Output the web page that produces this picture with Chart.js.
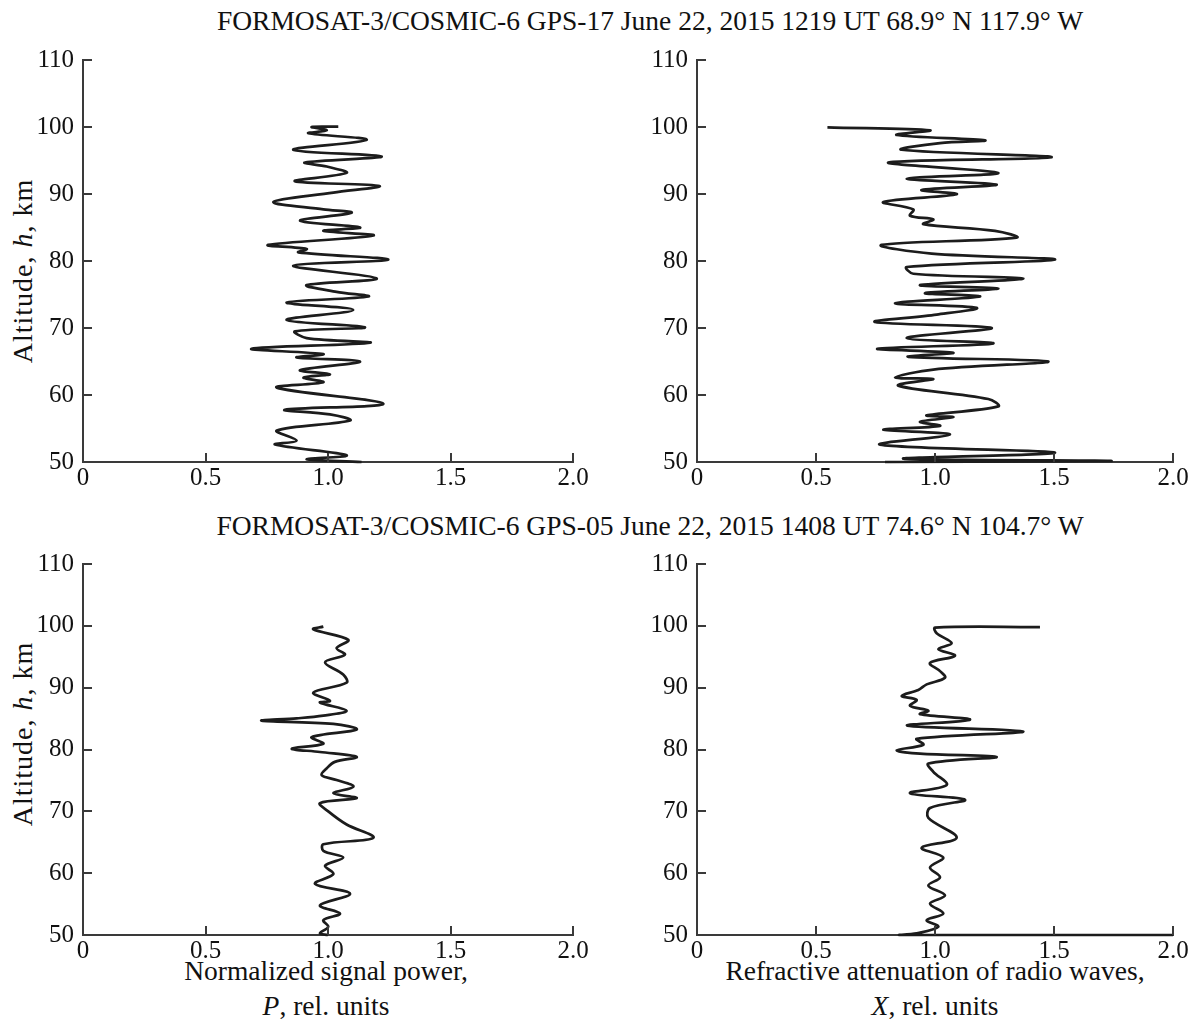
<!DOCTYPE html>
<html>
<head>
<meta charset="utf-8">
<script src="https://cdn.jsdelivr.net/npm/chart.js@4.4.0/dist/chart.umd.min.js"></script>
<style>
  html, body { margin: 0; padding: 0; background: #fff; }
  body { width: 1196px; height: 1031px; position: relative; overflow: hidden; font-family: "Liberation Serif", "Times New Roman", serif; color: #111; }
  canvas { position: absolute; }
  .txt { position: absolute; white-space: nowrap; font-size: 27.5px; line-height: 1; }
  .title { transform: translate(-50%, -50%); }
  .ytitle { font-size: 28px; letter-spacing: 1px; transform: translate(-50%, -50%) rotate(-90deg); }
  .xtitle { transform: translate(-50%, -50%); }
</style>
</head>
<body>
<div class="txt title" id="t1" style="left:650px; top:21px;"></div>
<div class="txt title" id="t2" style="left:650px; top:526px;"></div>
<div class="txt ytitle" style="left:23px; top:271px;">Altitude, <i>h</i>, km</div>
<div class="txt ytitle" style="left:23px; top:734px;">Altitude, <i>h</i>, km</div>
<div class="txt xtitle" style="left:326px; top:971px;">Normalized signal power,</div>
<div class="txt xtitle" style="left:326px; top:1006px;"><i>P</i>, rel. units</div>
<div class="txt xtitle" style="left:935px; top:971px;">Refractive attenuation of radio waves,</div>
<div class="txt xtitle" style="left:935px; top:1006px;"><i>X</i>, rel. units</div>
<canvas id="c1"></canvas>
<canvas id="c2"></canvas>
<canvas id="c3"></canvas>
<canvas id="c4"></canvas>
<script>
// ---- Titles ----
const title1 = "FORMOSAT-3/COSMIC-6 GPS-17 June 22, 2015 1219 UT 68.9° N 117.9° W";
const title2 = "FORMOSAT-3/COSMIC-6 GPS-05 June 22, 2015 1408 UT 74.6° N 104.7° W";

// ---- Tick labels ----
const xTickLabels = ["0", "0.5", "1.0", "1.5", "2.0"];
const yTickLabels = ["50", "60", "70", "80", "90", "100", "110"];

// ---- Top-left: normalized signal power P, GPS-17 ----
const tlAlt = [100.05,100.0,99.5,99.06,98.08,96.6,95.6,94.7,94.1,93.15,91.9,91.2,90.2,88.8,87.7,87.2,86.0,85.0,84.5,83.8,82.4,81.8,81.3,80.2,79.3,77.4,76.4,75.4,74.7,73.8,72.7,71.2,70.1,69.5,68.5,67.8,66.9,66.1,65.6,65.0,63.7,63.1,62.6,61.9,61.1,58.7,57.8,57.1,56.2,54.7,53.2,52.6,51.0,50.4,50.0];
const tlVal = [1.042,0.933,0.995,0.920,1.158,0.858,1.219,0.906,0.995,1.076,0.865,1.210,1.022,0.777,0.981,1.096,0.886,1.131,0.981,1.185,0.756,0.913,0.879,1.246,0.858,1.199,0.913,1.035,1.165,0.831,1.103,0.831,1.151,0.865,0.913,1.172,0.688,0.981,0.872,1.131,0.886,1.008,0.900,0.981,0.791,1.226,0.824,1.008,1.090,0.791,0.872,0.784,1.076,0.913,1.137];

// ---- Top-right: refractive attenuation X, GPS-17 ----
const trAlt = [99.95,99.5,98.8,98.0,97.6,96.6,95.5,94.7,93.15,92.3,91.4,90.6,89.95,88.8,87.7,86.75,86.2,85.5,84.5,83.5,82.4,81.1,80.2,79.1,78.1,77.4,76.4,75.9,75.2,74.7,73.7,73.0,72.0,70.9,70.0,68.5,67.7,66.9,66.3,65.7,65.0,63.8,62.6,62.4,61.4,59.4,58.3,56.95,56.7,56.0,55.4,54.8,54.1,52.6,51.4,50.5,50.15,50.0];
const trVal = [0.548,0.979,0.839,1.210,1.021,0.860,1.490,0.804,1.266,0.881,1.259,0.944,1.091,0.783,0.909,0.895,0.993,0.951,1.252,1.343,0.776,0.986,1.504,0.881,0.909,1.371,0.937,1.266,0.958,1.189,0.832,1.175,1.007,0.748,1.238,0.881,1.245,0.758,1.077,0.888,1.476,0.993,0.832,0.993,0.846,1.224,1.266,0.965,1.077,0.937,1.021,0.783,1.063,0.769,1.504,0.867,1.742,0.790];

// ---- Bottom-left: normalized signal power P, GPS-05 ----
const blAlt = [99.87,99.44,97.73,96.4,95.33,94.1,92.13,90.8,89.2,87.87,87.6,86.27,85.47,85.04,84.67,84.13,83.23,82.0,80.93,80.13,79.6,78.8,78.0,76.93,75.87,75.07,74.0,72.93,72.13,71.33,70.0,67.87,65.73,64.67,63.6,62.53,61.2,59.87,58.27,56.67,54.8,53.47,52.4,51.33,50.27,50.0];
const blVal = [0.981,0.940,1.083,1.035,1.069,0.988,1.062,1.076,0.940,1.008,0.967,1.076,0.981,0.872,0.729,1.022,1.117,0.933,0.981,0.852,0.967,1.117,1.028,0.994,0.974,1.035,1.104,1.022,1.117,0.967,1.001,1.076,1.185,0.981,0.981,1.062,0.988,1.022,0.947,1.090,0.967,1.049,0.981,1.001,0.967,1.000];

// ---- Bottom-right: refractive attenuation X, GPS-05 ----
const brAlt = [99.8,99.7,98.8,97.2,96.24,95.17,94.0,92.67,91.6,90.53,89.63,88.67,88.03,87.07,86.27,85.73,84.83,83.87,82.91,81.73,80.77,79.87,79.33,78.8,77.73,76.4,74.27,72.93,71.87,70.53,68.93,65.73,64.13,62.53,60.93,59.33,58.0,56.4,55.07,53.47,52.4,51.33,50.27,50.0,50.0];
const brVal = [1.441,1.0,1.007,1.070,1.014,1.084,0.979,1.021,1.042,0.965,0.930,0.860,0.923,0.895,0.972,0.937,1.147,0.884,1.371,0.923,0.951,0.839,0.937,1.259,0.972,0.993,1.049,0.895,1.126,0.979,0.972,1.091,0.944,1.035,0.979,1.021,0.972,1.042,0.979,1.035,0.965,1.014,0.923,0.853,2.0];

document.getElementById('t1').textContent = title1;
document.getElementById('t2').textContent = title2;

const AXIS_COLOR = '#3a3a3a';
const LINE_COLOR = '#1c1c1c';
const FAMILY = '"Liberation Serif", "Times New Roman", serif';
Chart.defaults.font.family = FAMILY;
const FONT = { family: FAMILY, size: 25 };

// inward tick marks drawn from the library's own scales
const inwardTicks = {
  id: 'inwardTicks',
  afterDraw(chart) {
    const ctx = chart.ctx;
    const xs = chart.scales.x, ys = chart.scales.y;
    const a = chart.chartArea;
    ctx.save();
    ctx.strokeStyle = AXIS_COLOR;
    ctx.lineWidth = 2;
    xs.ticks.forEach(t => {
      const px = Math.round(xs.getPixelForValue(t.value));
      ctx.beginPath(); ctx.moveTo(px, a.bottom); ctx.lineTo(px, a.bottom - 9); ctx.stroke();
    });
    ys.ticks.forEach(t => {
      const py = Math.round(ys.getPixelForValue(t.value));
      ctx.beginPath(); ctx.moveTo(a.left, py); ctx.lineTo(a.left + 9, py); ctx.stroke();
    });
    ctx.restore();
  }
};

function makePanel(id, rect, alt, val) {
  const LEFT = 83, RIGHT = 23, TOP = 20, BOTTOM = 44;
  const cv = document.getElementById(id);
  const w = (rect.right - rect.left) + LEFT + RIGHT;
  const h = (rect.bottom - rect.top) + TOP + BOTTOM;
  cv.width = w; cv.height = h;
  cv.style.width = w + 'px'; cv.style.height = h + 'px';
  cv.style.left = (rect.left - LEFT) + 'px';
  cv.style.top = (rect.top - TOP) + 'px';
  const pts = alt.map((a, i) => ({ x: val[i], y: a }));
  return new Chart(cv, {
    type: 'scatter',
    data: { datasets: [{
      data: pts, showLine: true, borderColor: LINE_COLOR, borderWidth: 2.7,
      pointRadius: 0, tension: 0.35, clip: false, fill: false
    }]},
    options: {
      responsive: false, animation: false, devicePixelRatio: 1,
      layout: { padding: { top: TOP, right: RIGHT, left: 0, bottom: 0 } },
      plugins: { legend: { display: false }, tooltip: { enabled: false } },
      scales: {
        x: {
          type: 'linear', min: 0, max: 2,
          grid: { display: false, drawTicks: false, tickLength: 0 },
          border: { display: true, color: AXIS_COLOR, width: 2 },
          ticks: { stepSize: 0.5, padding: 1, color: '#111', font: FONT, maxRotation: 0,
                   callback: (v, i) => xTickLabels[i] },
          afterFit: s => { s.height = BOTTOM; }
        },
        y: {
          type: 'linear', min: 50, max: 110,
          grid: { display: false, drawTicks: false, tickLength: 0 },
          border: { display: true, color: AXIS_COLOR, width: 2 },
          ticks: { stepSize: 10, padding: 9, color: '#111', font: FONT,
                   callback: (v, i) => yTickLabels[i] },
          afterFit: s => { s.width = LEFT; }
        }
      }
    },
    plugins: [inwardTicks]
  });
}

const charts = [
  makePanel('c1', { left: 83, right: 573, top: 56, bottom: 462 }, tlAlt, tlVal),
  makePanel('c2', { left: 697, right: 1173, top: 56, bottom: 462 }, trAlt, trVal),
  makePanel('c3', { left: 83, right: 573, top: 560, bottom: 935 }, blAlt, blVal),
  makePanel('c4', { left: 697, right: 1173, top: 560, bottom: 935 }, brAlt, brVal)
];
if (document.fonts && document.fonts.load) {
  document.fonts.load('25px "Liberation Serif"').then(() => charts.forEach(c => c.update('none')));
}
</script>
</body>
</html>
